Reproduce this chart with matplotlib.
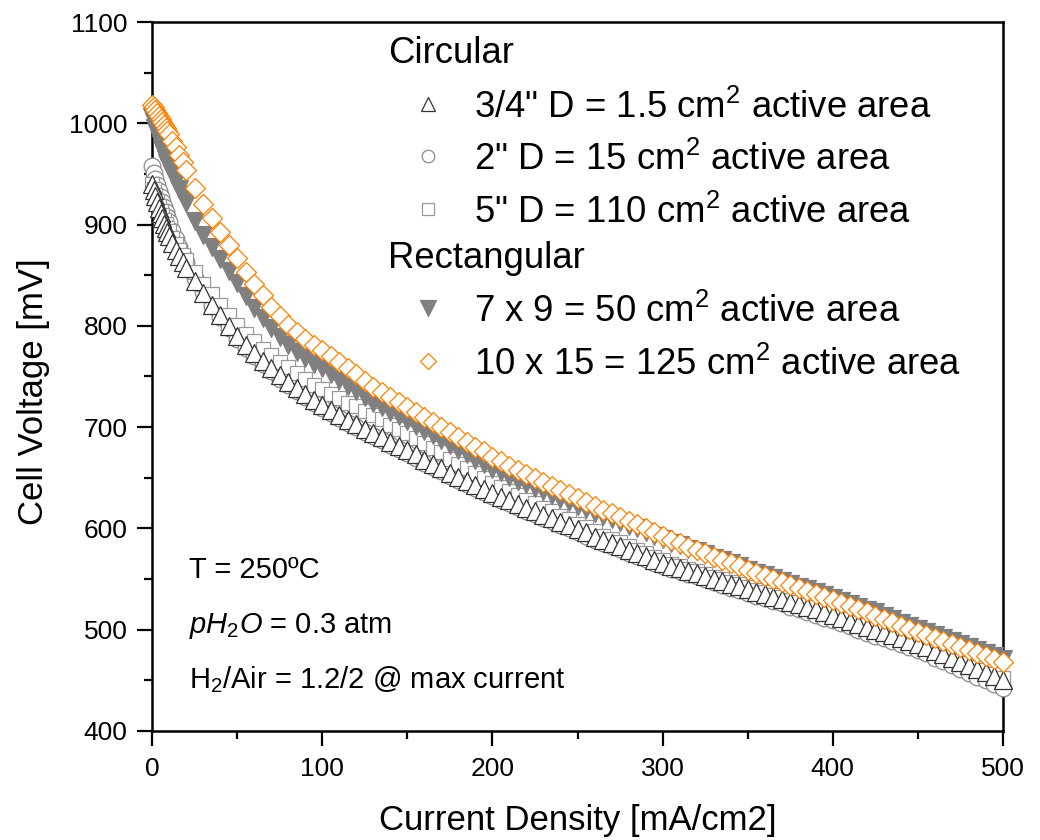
import matplotlib
matplotlib.use("Agg")
import matplotlib.pyplot as plt
from matplotlib.lines import Line2D
from matplotlib.ticker import MultipleLocator

# Arial-like text everywhere
plt.rcParams['font.family'] = ['Liberation Sans', 'DejaVu Sans']
plt.rcParams['mathtext.fontset'] = 'custom'
plt.rcParams['mathtext.rm'] = 'Liberation Sans'
plt.rcParams['mathtext.it'] = 'Liberation Sans:italic'

# current density [mA/cm2]
current = [0, 1, 2, 3, 4, 5, 6, 7, 8, 9, 10, 12, 14, 16, 18, 20,
           25, 30, 35, 40, 45, 50, 55, 60, 65, 70, 75, 80, 85, 90, 95, 100,
           105, 110, 115, 120, 125, 130, 135, 140, 145, 150,
           155, 160, 165, 170, 175, 180, 185, 190, 195, 200,
           205, 210, 215, 220, 225, 230, 235, 240, 245, 250,
           255, 260, 265, 270, 275, 280, 285, 290, 295, 300,
           305, 310, 315, 320, 325, 330, 335, 340, 345, 350,
           355, 360, 365, 370, 375, 380, 385, 390, 395, 400,
           405, 410, 415, 420, 425, 430, 435, 440, 445, 450,
           455, 460, 465, 470, 475, 480, 485, 490, 495, 500]

# cell voltage [mV]
v_34in = [940, 934, 928, 922, 916, 911, 906, 901, 897, 893, 889, 882, 875, 869, 863, 857,
          844, 832, 821, 811, 800, 790, 781, 773, 765, 758, 751, 745, 739, 733, 727, 722,
          717, 712, 707, 703, 698, 694, 690, 685, 681, 677,
          673, 668, 664, 660, 655, 651, 647, 643, 639, 635,
          631, 628, 624, 620, 617, 613, 610, 606, 603, 599,
          596, 592, 589, 586, 583, 579, 576, 573, 569, 566,
          563, 561, 558, 556, 553, 550, 548, 545, 543, 540,
          537, 535, 532, 530, 527, 525, 522, 520, 517, 515,
          512, 509, 506, 503, 500, 498, 495, 492, 489, 486,
          483, 479, 476, 472, 468, 465, 461, 458, 454, 450]

v_2in = [958, 951, 945, 939, 933, 927, 922, 917, 912, 907, 903, 894, 886, 878, 870, 863,
         847, 833, 820, 809, 798, 787, 778, 770, 762, 755, 748, 742, 736, 730, 724, 719,
         714, 709, 704, 700, 695, 691, 687, 682, 678, 674,
         670, 665, 661, 657, 652, 648, 644, 640, 636, 632,
         628, 625, 621, 617, 614, 610, 607, 603, 600, 596,
         593, 589, 586, 583, 580, 576, 573, 570, 566, 563,
         560, 558, 555, 553, 550, 547, 544, 541, 539, 536,
         533, 531, 528, 526, 522, 520, 517, 515, 512, 510,
         507, 504, 500, 497, 494, 492, 489, 486, 483, 480,
         477, 472, 469, 465, 461, 457, 453, 450, 446, 442]

v_5in = [940, 935, 929, 923, 918, 913, 909, 905, 901, 897, 894, 887, 881, 875, 870, 865,
         853, 841, 831, 821, 811, 801, 792, 785, 777, 771, 764, 759, 753, 748, 742, 738,
         733, 729, 724, 721, 716, 712, 708, 702, 698, 694,
         689, 684, 679, 675, 669, 664, 660, 655, 650, 645,
         641, 637, 633, 628, 625, 620, 617, 612, 609, 604,
         601, 597, 593, 590, 587, 583, 579, 576, 572, 569,
         565, 563, 560, 558, 555, 552, 550, 547, 545, 542,
         539, 537, 534, 532, 529, 527, 524, 522, 519, 517,
         514, 511, 508, 505, 502, 500, 497, 494, 491, 488,
         485, 481, 478, 474, 470, 467, 463, 460, 456, 452]

v_7x9 = [1006, 1001, 995, 990, 985, 980, 975, 970, 965, 961, 957, 950, 943, 935, 929, 921,
         904, 890, 878, 866, 854, 842, 829, 818, 808, 798, 789, 781, 774, 768, 762, 758,
         752, 747, 741, 736, 730, 724, 720, 715, 711, 706,
         701, 696, 692, 687, 682, 677, 673, 668, 664, 659,
         656, 651, 647, 644, 640, 637, 633, 629, 626, 622,
         619, 615, 612, 609, 606, 602, 600, 596, 593, 590,
         586, 584, 580, 578, 575, 571, 569, 566, 563, 559,
         556, 554, 551, 548, 545, 542, 540, 537, 534, 531,
         528, 525, 522, 519, 517, 514, 511, 507, 504, 501,
         498, 495, 492, 489, 486, 483, 480, 477, 474, 471]

v_10x15 = [1018, 1016, 1013, 1010, 1007, 1004, 1001, 998, 995, 992, 989, 983, 977, 969, 962, 954,
           936, 920, 906, 893, 880, 867, 853, 841, 830, 819, 810, 801, 794, 787, 781, 776,
           770, 764, 758, 752, 746, 740, 735, 730, 725, 720,
           715, 710, 705, 700, 695, 690, 685, 680, 676, 671,
           667, 662, 658, 654, 650, 646, 642, 638, 634, 630,
           626, 622, 618, 615, 611, 607, 604, 600, 596, 593,
           589, 586, 582, 579, 576, 572, 569, 566, 563, 559,
           556, 553, 550, 547, 544, 541, 538, 535, 532, 529,
           526, 523, 520, 517, 514, 511, 508, 504, 501, 498,
           495, 492, 489, 486, 483, 480, 477, 474, 471, 468]

labels = ['3/4" D = 1.5 cm$^2$ active area',
          '2" D = 15 cm$^2$ active area',
          '5" D = 110 cm$^2$ active area',
          '7 x 9 = 50 cm$^2$ active area',
          '10 x 15 = 125 cm$^2$ active area']

fig = plt.figure(figsize=(10.4, 8.4), dpi=100)
ax = fig.add_axes([152 / 1040, 109 / 840, 851 / 1040, 709 / 840])

# draw order: circles, squares, triangles, filled triangles, diamonds
l_2in, = ax.plot(current, v_2in, ls='none', marker='o', ms=12, mfc='white', mec='#8a8a8a', mew=0.9, clip_on=False, zorder=3)
l_5in, = ax.plot(current, v_5in, ls='none', marker='s', ms=10.5, mfc='white', mec='#9a9a9a', mew=0.9, clip_on=False, zorder=4)
l_34in, = ax.plot(current, v_34in, ls='none', marker='^', ms=13, mfc='white', mec='#333333', mew=0.9, clip_on=False, zorder=5)
l_7x9, = ax.plot(current, v_7x9, ls='none', marker='v', ms=13, mfc='#808080', mec='#808080', mew=0.9, clip_on=False, zorder=6)
l_10x15, = ax.plot(current, v_10x15, ls='none', marker='D', ms=10, mfc='white', mec='#ff8000', mew=0.9, clip_on=False, zorder=7)

ax.set_xlim(0, 500)
ax.set_ylim(400, 1100)
ax.xaxis.set_major_locator(MultipleLocator(100))
ax.xaxis.set_minor_locator(MultipleLocator(50))
ax.yaxis.set_major_locator(MultipleLocator(100))
ax.yaxis.set_minor_locator(MultipleLocator(50))
ax.tick_params(which='major', direction='out', length=11, width=1.6, labelsize=19)
ax.tick_params(which='minor', direction='out', length=5.5, width=1.6)
ax.tick_params(axis='y', which='major', pad=6.5)
ax.tick_params(axis='x', which='major', pad=8)
for s in ax.spines.values():
    s.set_linewidth(1.8)

# axis titles
fig.text(577.5 / 1040, 1 - 830 / 840, 'Current Density [mA/cm2]', ha='center', va='baseline', fontsize=25)
fig.text(34 / 1040, 1 - 392 / 840, 'Cell Voltage [mV]', ha='center', va='center', rotation=90, fontsize=25)

# legend, built by hand (two group headers)
def fx(px):
    return px / 1040

def fy(py):
    return 1 - py / 840

fig.text(fx(388), fy(63), 'Circular', fontsize=26.3, va='baseline')
fig.text(fx(388), fy(268), 'Rectangular', fontsize=26.3, va='baseline')
rows = [118, 170, 223, 322, 375]
lines = [l_34in, l_2in, l_5in, l_7x9, l_10x15]
key_ms = [10, 9, 8, 12, 8.5]
for line, lab, base, ms in zip(lines, labels, rows, key_ms):
    fig.add_artist(Line2D([fx(428)], [fy(base - 14)], transform=fig.transFigure, ls='none',
                          marker=line.get_marker(), ms=ms, mfc=line.get_mfc(), mec=line.get_mec(), mew=0.9))
    fig.text(fx(474), fy(base), lab, fontsize=26.3, va='baseline')

# operating conditions
fig.text(fx(189), fy(578), 'T = 250ºC', fontsize=21, va='baseline')
fig.text(fx(189), fy(633), '$pH_2O$ = 0.3 atm', fontsize=21, va='baseline')
fig.text(fx(189), fy(688), 'H$_2$/Air = 1.2/2 @ max current', fontsize=21, va='baseline')

fig.savefig('out.png', dpi=100)
